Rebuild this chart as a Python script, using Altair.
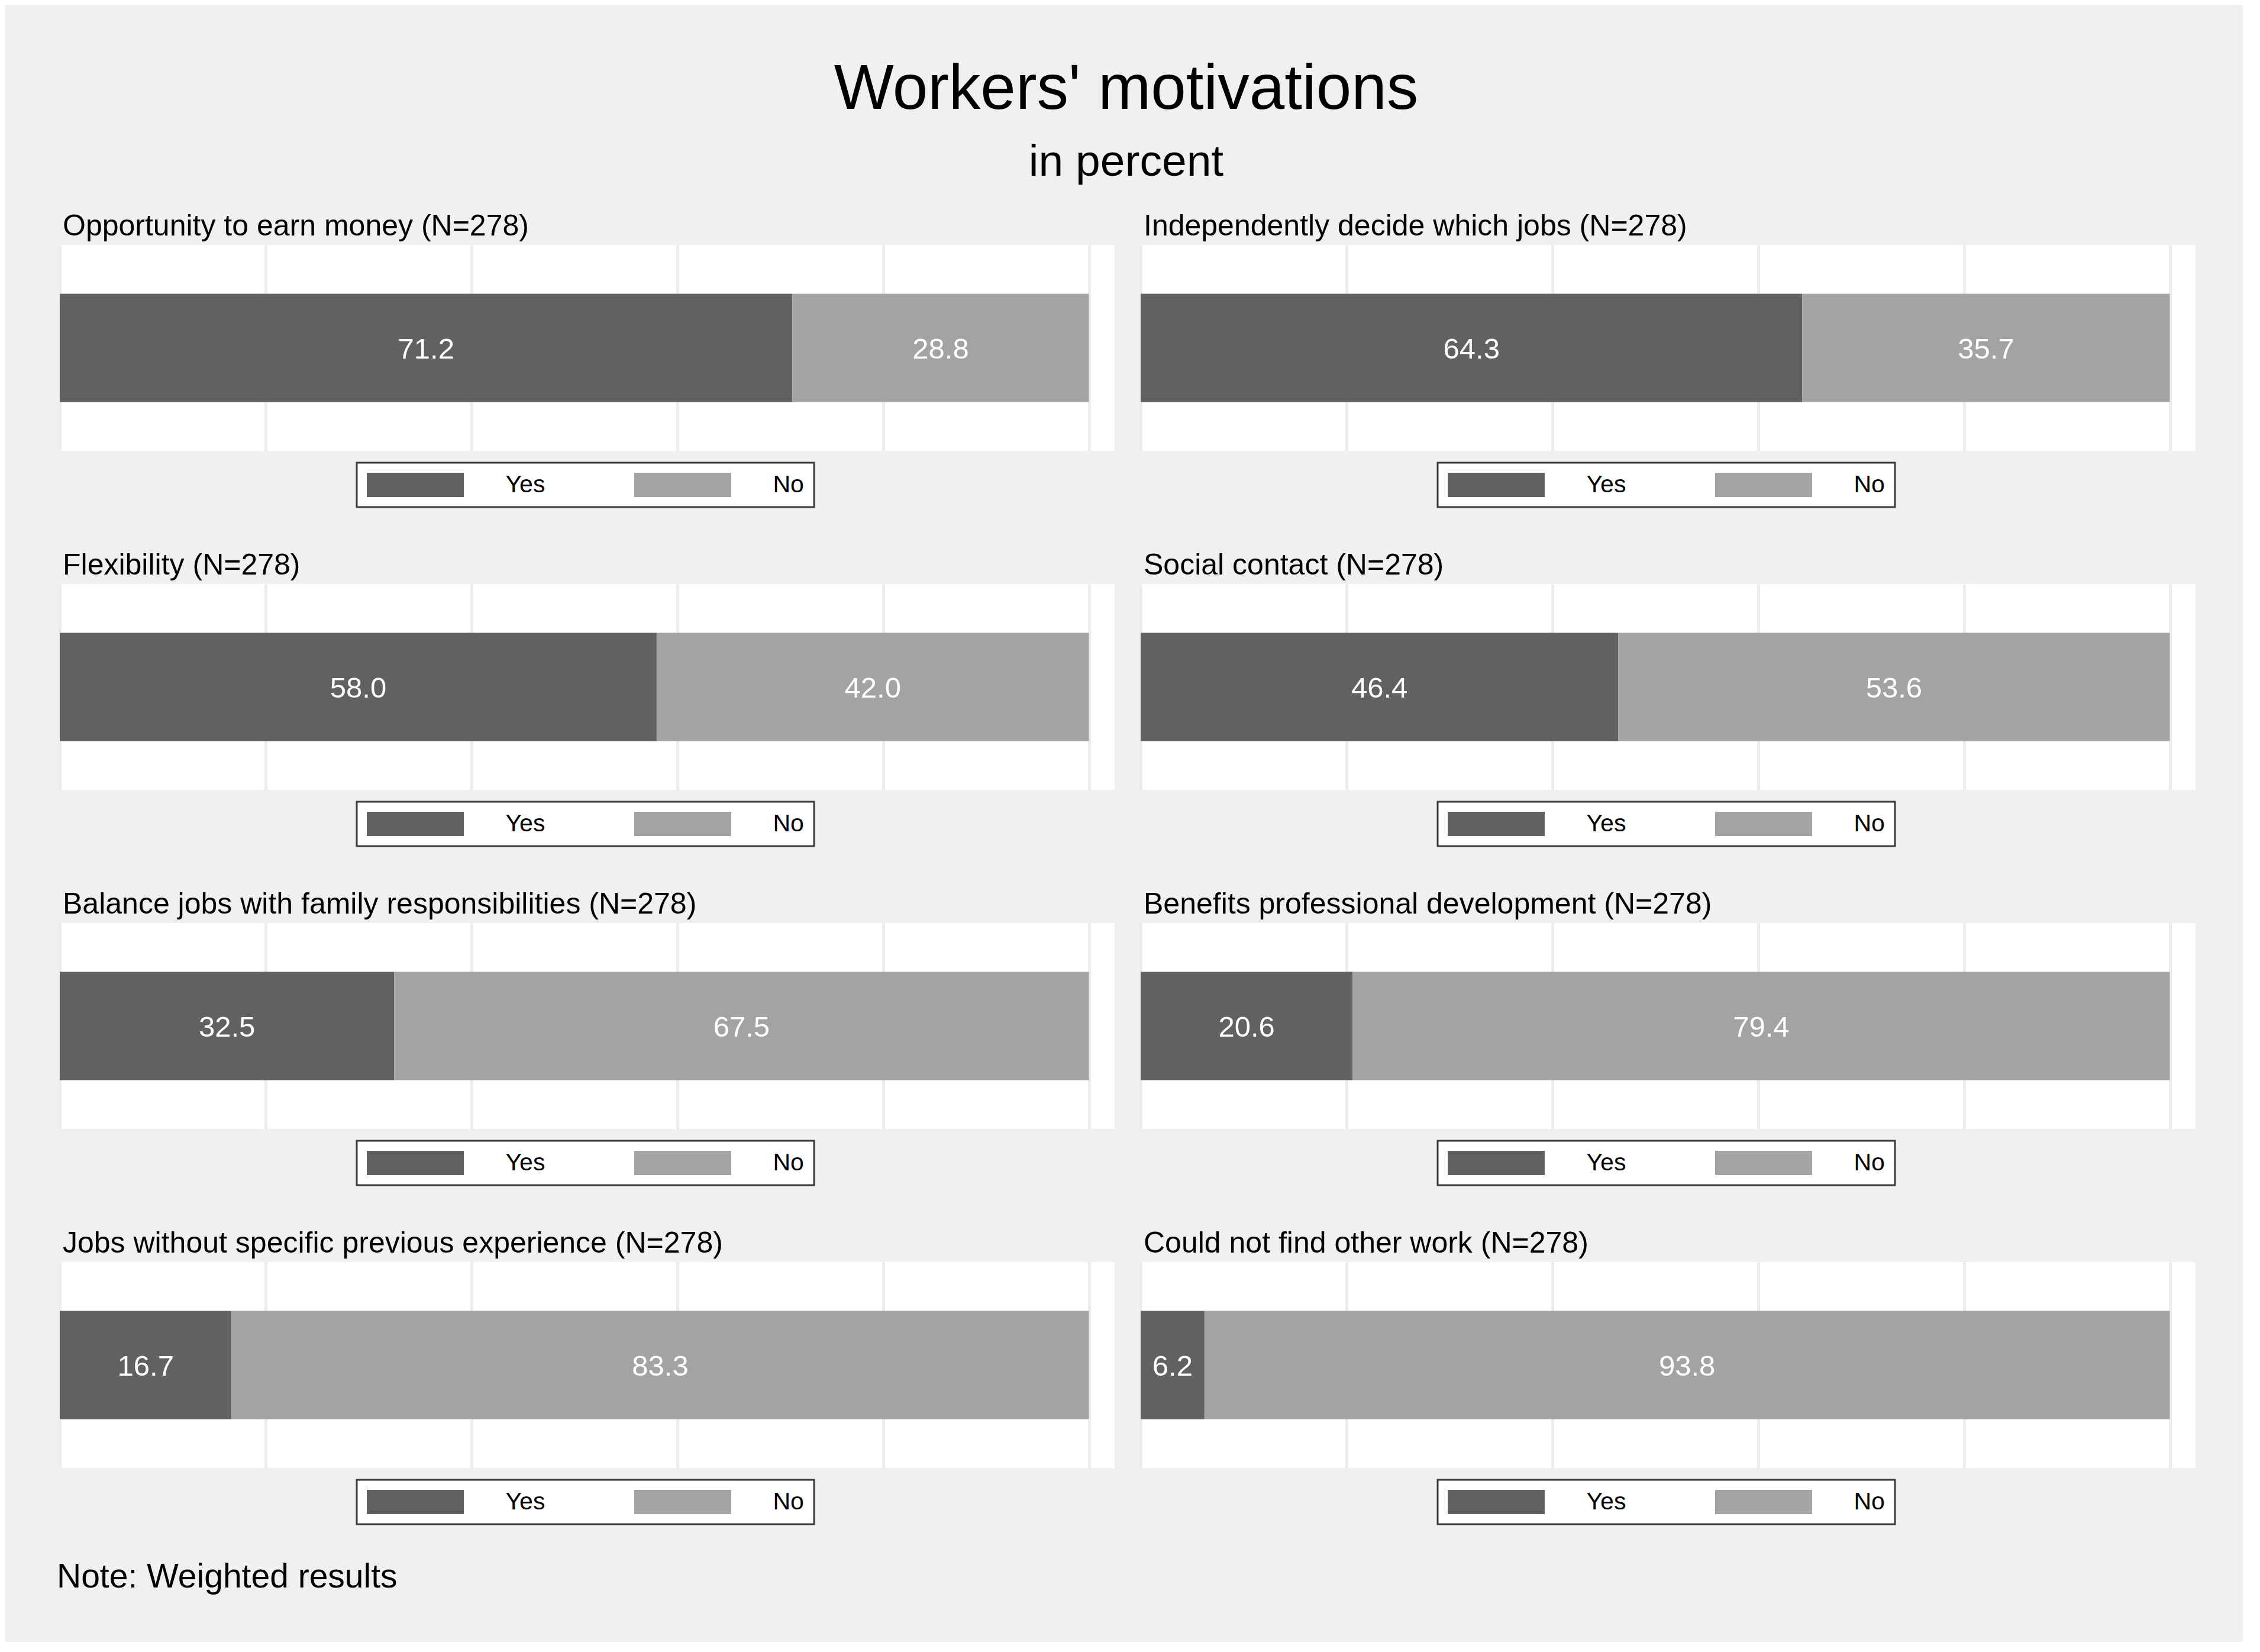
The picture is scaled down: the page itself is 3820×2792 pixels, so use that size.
import altair as alt
import pandas as pd

# ---- data ----
panels = [
    "Opportunity to earn money (N=278)",
    "Independently decide which jobs (N=278)",
    "Flexibility (N=278)",
    "Social contact (N=278)",
    "Balance jobs with family responsibilities (N=278)",
    "Benefits professional development (N=278)",
    "Jobs without specific previous experience (N=278)",
    "Could not find other work (N=278)",
]
yes_vals = [71.2, 64.3, 58.0, 46.4, 32.5, 20.6, 16.7, 6.2]
no_vals = [28.8, 35.7, 42.0, 53.6, 67.5, 79.4, 83.3, 93.8]
responses = ["Yes", "No"]
colors = ["#616161", "#a3a3a3"]
grid_ticks = [0, 20, 40, 60, 80, 100]

FONT = "Liberation Sans"
PW, PH = 1783, 348


def panel(i):
    df = pd.DataFrame({
        "row": ["a", "a"],
        "resp": responses,
        "ord": [0, 1],
        "val": [yes_vals[i], no_vals[i]],
    })
    base = alt.Chart(df).transform_stack(
        stack="val", groupby=["row"], as_=["x0", "x1"],
        sort=[alt.SortField("ord", order="ascending")],
    ).transform_calculate(mid="(datum.x0 + datum.x1) / 2")

    yenc = alt.Y("row:N", axis=None,
                 scale=alt.Scale(paddingOuter=0.45, paddingInner=0))
    bars = base.mark_bar().encode(
        x=alt.X("x0:Q",
                scale=alt.Scale(domain=[0, 102.5], nice=False, zero=True),
                axis=alt.Axis(values=grid_ticks, grid=True, gridColor="#ececec",
                              gridWidth=5, labels=False, ticks=False,
                              domain=False, title=None)),
        x2="x1:Q",
        y=yenc,
        color=alt.Color(
            "resp:N",
            scale=alt.Scale(domain=responses, range=colors),
            legend=alt.Legend(
                orient="none", legendX=502, legendY=368,
                direction="horizontal", title=None,
                symbolType="M-4,-1H4V1H-4Z", symbolSize=1681,
                symbolOffset=61.5,
                symbolStrokeWidth=0, symbolOpacity=1,
                labelFontSize=41, labelFont=FONT, labelColor="black",
                labelOffset=132, columnPadding=150, padding=17,
                strokeColor="#3a3a3a", fillColor="white",
            ),
        ),
    )
    labels = base.mark_text(color="white", fontSize=49, font=FONT, dy=3).encode(
        x="mid:Q",
        y=yenc,
        text=alt.Text("val:Q", format=".1f"),
    )
    return alt.layer(bars, labels, view=alt.ViewBackground(fill="white", strokeWidth=0)).properties(
        width=PW, height=PH,
        title=alt.TitleParams(panels[i], anchor="start", fontSize=50, font=FONT,
                              fontWeight="normal", color="black", offset=6, dx=5),
    )


rows = []
for r in range(4):
    h = alt.hconcat(panel(2 * r), panel(2 * r + 1), spacing=44).resolve_scale(
        color="independent", x="independent", y="independent"
    ).resolve_legend(color="independent")
    rows.append(h)

grid = alt.vconcat(*rows, spacing=72).resolve_scale(
    color="independent", x="independent", y="independent"
).resolve_legend(color="independent")

note_df = pd.DataFrame({"t": ["Note: Weighted results"]})
note = alt.Chart(note_df).mark_text(align="left", baseline="middle", fontSize=57,
                                    font=FONT, color="black").encode(
    text="t:N", x=alt.value(-5), y=alt.value(30)
).properties(width=800, height=60)

chart = alt.vconcat(grid, note, spacing=58).resolve_scale(
    color="independent"
).resolve_legend(color="independent").properties(
    title=alt.TitleParams("Workers' motivations", subtitle="in percent",
                          anchor="middle", fontSize=107, subtitleFontSize=75,
                          font=FONT, subtitleFont=FONT, fontWeight="normal",
                          color="black", subtitleColor="black",
                          subtitlePadding=32, offset=45),
    padding={"left": 88, "top": 90, "right": 80, "bottom": 79},
    background="#f0f0f0",
).configure_view(strokeWidth=0).configure_legend(strokeWidth=3)

chart.save("out.html", embed_options={"renderer": "svg", "actions": False})
